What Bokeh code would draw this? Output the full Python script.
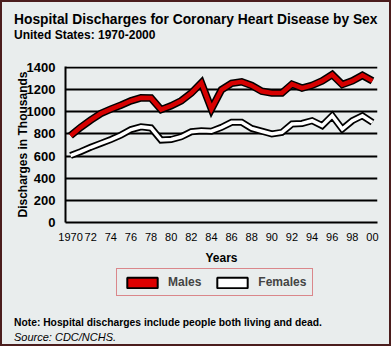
from bokeh.plotting import figure
from bokeh.layouts import column
from bokeh.models import (ColumnDataSource, Range1d, FixedTicker, Legend,
                          LegendItem, Div)
from bokeh.embed import file_html
from bokeh.resources import INLINE

# ---- data (thousands of discharges) ----
years = list(range(1970, 2001))
males = [785, 860, 925, 985, 1025, 1060, 1100, 1127, 1125, 1020,
         1055, 1100, 1170, 1262, 1025, 1200, 1258, 1272, 1238, 1186,
         1170, 1170, 1250, 1215, 1240, 1280, 1337, 1247, 1280, 1330, 1280]
females = [605, 640, 680, 715, 750, 790, 840, 865, 855, 745,
           750, 775, 820, 830, 825, 860, 905, 905, 850, 825,
           800, 815, 890, 895, 920, 875, 965, 845, 920, 965, 905]
x_ticks = list(range(1970, 2001, 2))
x_tick_labels = ["1970", "72", "74", "76", "78", "80", "82", "84", "86", "88",
                 "90", "92", "94", "96", "98", "00"]
y_ticks = [0, 200, 400, 600, 800, 1000, 1200, 1400]

title = "Hospital Discharges for Coronary Heart Disease by Sex"
subtitle = "United States: 1970-2000"
y_label = "Discharges in Thousands"
x_label = "Years"
note = "Note: Hospital discharges include people both living and dead."
source_txt = "Source: CDC/NCHS."

BG = "#e9eded"
FONT = "Liberation Sans"

# ---- heading ----
head = Div(text=(f'<div style="font-size:13.8px;font-weight:bold;line-height:16px;">{title}</div>'
                 f'<div style="font-size:12px;font-weight:bold;line-height:14px;">{subtitle}</div>'),
           width=387, height=50, margin=0,
           styles={"background-color": BG, "font-family": FONT, "color": "black",
                   "padding-top": "9.5px", "padding-left": "12px",
                   "box-sizing": "border-box", "white-space": "nowrap"})

# ---- main chart ----
p = figure(width=387, height=216, x_range=Range1d(1969.5, 2000.5),
           y_range=Range1d(0, 1410), output_backend="svg", toolbar_location=None,
           min_border_left=63, min_border_right=12, min_border_top=14,
           min_border_bottom=46)
p.background_fill_color = BG
p.border_fill_color = BG
p.outline_line_color = None

p.xaxis.ticker = FixedTicker(ticks=x_ticks)
p.xaxis.major_label_overrides = {t: l for t, l in zip(x_ticks, x_tick_labels)}
p.yaxis.ticker = FixedTicker(ticks=y_ticks)
for ax in (p.xaxis[0], p.yaxis[0]):
    ax.axis_line_color = "black"
    ax.axis_line_width = 2
    ax.major_tick_line_color = None
    ax.minor_tick_line_color = None
    ax.major_label_text_font = FONT
    ax.major_label_text_color = "black"
    ax.axis_label_text_font = FONT
    ax.axis_label_text_font_style = "bold"
    ax.axis_label_text_color = "black"
    ax.axis_label_text_font_size = "12px"
p.xaxis.major_label_text_font_size = "11px"
p.xaxis.major_label_standoff = 4
p.xaxis.axis_label = x_label
p.xaxis.axis_label_standoff = 7
p.yaxis.major_label_text_font_size = "13px"
p.yaxis.major_label_text_font_style = "bold"
p.yaxis.major_label_standoff = 4
p.yaxis.axis_label = y_label
p.yaxis.axis_label_standoff = -6

p.xgrid.visible = False
p.ygrid.ticker = FixedTicker(ticks=y_ticks)
p.ygrid.grid_line_color = "black"
p.ygrid.grid_line_width = 2

src = ColumnDataSource(dict(year=years, males=males, females=females))
p.line("year", "females", source=src, line_color="black", line_width=7, line_join="miter")
p.line("year", "females", source=src, line_color="white", line_width=3.5, line_join="miter")
p.line("year", "males", source=src, line_color="black", line_width=7.5, line_join="miter")
p.line("year", "males", source=src, line_color="#d60000", line_width=4.5, line_join="miter")

# ---- legend strip (its y range keeps the swatch glyphs out of view) ----
pb = figure(width=387, height=36, x_range=Range1d(1969.5, 2000.5),
            y_range=Range1d(0, 1), output_backend="svg", toolbar_location=None,
            x_axis_type=None, y_axis_type=None, min_border=0)
pb.background_fill_color = BG
pb.border_fill_color = BG
pb.outline_line_color = None
pb.grid.visible = False

rm = pb.quad(left="year", right="year", top="males", bottom="females", source=src,
             fill_color="#dd0000", line_color="black", line_width=2)
rf = pb.quad(left="year", right="year", top="males", bottom="females", source=src,
             fill_color="white", line_color="black", line_width=2)
legend = Legend(items=[LegendItem(label="Males", renderers=[rm]),
                       LegendItem(label="Females", renderers=[rf])],
                orientation="horizontal", location=(51, 8),
                glyph_width=38, glyph_height=13, label_height=14,
                label_text_font=FONT, label_text_font_size="12px",
                label_text_font_style="bold", label_standoff=7, spacing=12,
                padding=6, margin=0, border_line_color="#cc2229",
                border_line_width=1.5, background_fill_color=BG,
                background_fill_alpha=1.0)
pb.add_layout(legend)

notes = Div(text=(f'<div style="font-size:10.3px;font-weight:bold;">{note}</div>'
                  f'<div style="font-size:11px;font-style:italic;">{source_txt}</div>'),
            width=387, height=40, margin=0,
            styles={"background-color": BG, "font-family": FONT, "color": "black",
                    "line-height": "15px", "padding-top": "11px", "padding-left": "12px",
                    "box-sizing": "border-box", "white-space": "nowrap"})

layout = column(head, p, pb, notes, spacing=0,
                styles={"border": "2px solid #4b1d1d", "background-color": BG})
open("out.html", "w").write(file_html(layout, INLINE))
